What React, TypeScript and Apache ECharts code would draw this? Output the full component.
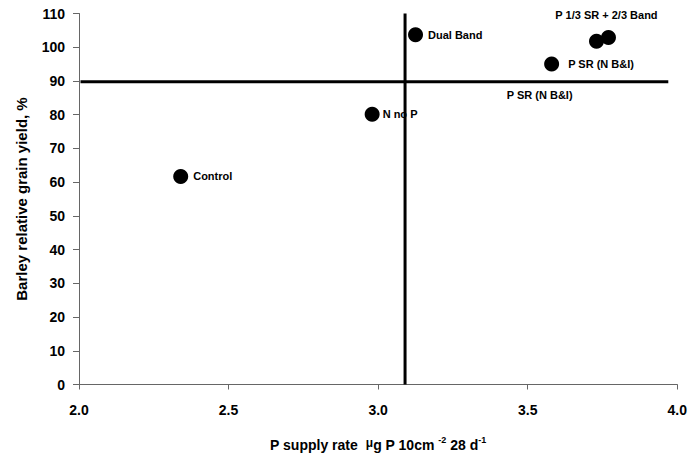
import React, { useEffect, useRef } from "react";
import * as echarts from "echarts";

const pointNames = ["Control", "N no P", "Dual Band", "P SR (N B&I)", "", "P 1/3 SR + 2/3 Band"];
const xValues = [2.34, 2.98, 3.125, 3.58, 3.73, 3.77];
const yValues = [61.7, 80.1, 103.7, 95.0, 101.8, 102.9];
const labelPositions = ["right", "right", "right", "right", "none", "top"];

const vLineX = 3.09;
const vLineY = [0, 110];
const hLineY = 89.8;
const hLineX = [2.005, 3.97];
const hLineLabel = "P SR (N B&I)";
const hLineLabelPos = [3.54, 85.7];

const xTicks = { min: 2.0, max: 4.0, interval: 0.5 };
const yTicks = { min: 0, max: 110, interval: 10 };

export default function App() {
  const ref = useRef<HTMLDivElement>(null);
  useEffect(() => {
    if (!ref.current) return;
    const chart = echarts.init(ref.current, null, { renderer: "svg" });
    const font = "Arial, 'Liberation Sans', sans-serif";
    const pts = xValues.map((x, i) => {
      const pos = labelPositions[i];
      return {
        value: [x, yValues[i]],
        label:
          pos === "none"
            ? { show: false }
            : {
                show: true,
                position: pos,
                formatter: pointNames[i],
                color: "#000",
                distance: pos === "top" ? 9 : i === 1 ? 3 : i === 3 ? 9 : 5,
                offset: pos === "top" ? [-2, 0] : [0, 0],
              },
      };
    });
    chart.setOption({
      animation: false,
      backgroundColor: "#fff",
      grid: { left: 79, right: 10, top: 13.5, bottom: 66.3, containLabel: false },
      xAxis: {
        type: "value",
        min: xTicks.min,
        max: xTicks.max,
        interval: xTicks.interval,
        splitLine: { show: false },
        axisLine: { show: true, onZero: false, lineStyle: { color: "#666", width: 1 } },
        axisTick: { show: true, length: 5, lineStyle: { color: "#666" } },
        axisLabel: {
          color: "#000",
          fontFamily: font,
          fontWeight: "bold",
          fontSize: 14,
          margin: 18,
          formatter: (v: number) => v.toFixed(1),
        },
        name: "{a|P supply rate  }{mu|μ}{a|g P 10cm }{sup|-2}{a| 28 d}{sup|-1}",
        nameLocation: "middle",
        nameGap: 51,
        nameTextStyle: {
          rich: {
            a: { fontFamily: font, fontWeight: "bold", fontSize: 14, color: "#000" },
            mu: { fontFamily: font, fontWeight: "bold", fontSize: 12, color: "#000", padding: [0, 0, 5, 0] },
            sup: { fontFamily: font, fontWeight: "bold", fontSize: 9, color: "#000", padding: [0, 0, 10, 0] },
          },
        },
      },
      yAxis: {
        type: "value",
        min: yTicks.min,
        max: yTicks.max,
        interval: yTicks.interval,
        splitLine: { show: false },
        axisLine: { show: true, lineStyle: { color: "#666", width: 1 } },
        axisTick: { show: true, length: 6, lineStyle: { color: "#666" } },
        axisLabel: {
          color: "#000",
          fontFamily: font,
          fontWeight: "bold",
          fontSize: 14,
          margin: 14,
        },
        name: "Barley relative grain yield, %",
        nameLocation: "middle",
        nameRotate: 90,
        nameGap: 50,
        nameTextStyle: { fontFamily: font, fontWeight: "bold", fontSize: 15, color: "#000" },
      },
      series: [
        {
          type: "line",
          data: [
            [vLineX, vLineY[0]],
            [vLineX, vLineY[1]],
          ],
          symbol: "none",
          lineStyle: { color: "#000", width: 3 },
          silent: true,
          z: 3,
        },
        {
          type: "line",
          data: [
            [hLineX[0], hLineY],
            [hLineX[1], hLineY],
          ],
          symbol: "none",
          lineStyle: { color: "#000", width: 3 },
          silent: true,
          z: 3,
        },
        {
          type: "scatter",
          data: [{ value: hLineLabelPos }],
          symbolSize: 0,
          itemStyle: { opacity: 1 },
          label: {
            show: true,
            position: "inside",
            formatter: hLineLabel,
            color: "#000",
            opacity: 1,
            fontFamily: font,
            fontWeight: "bold",
            fontSize: 11,
          },
          silent: true,
        },
        {
          type: "scatter",
          data: pts,
          symbol: "circle",
          symbolSize: 15,
          itemStyle: { color: "#000", opacity: 1 },
          label: { color: "#000", fontFamily: font, fontWeight: "bold", fontSize: 11 },
          z: 5,
        },
      ],
    });
    return () => chart.dispose();
  }, []);
  return <div ref={ref} style={{ width: 690, height: 457, position: "absolute", left: 0, top: 0 }} />;
}
